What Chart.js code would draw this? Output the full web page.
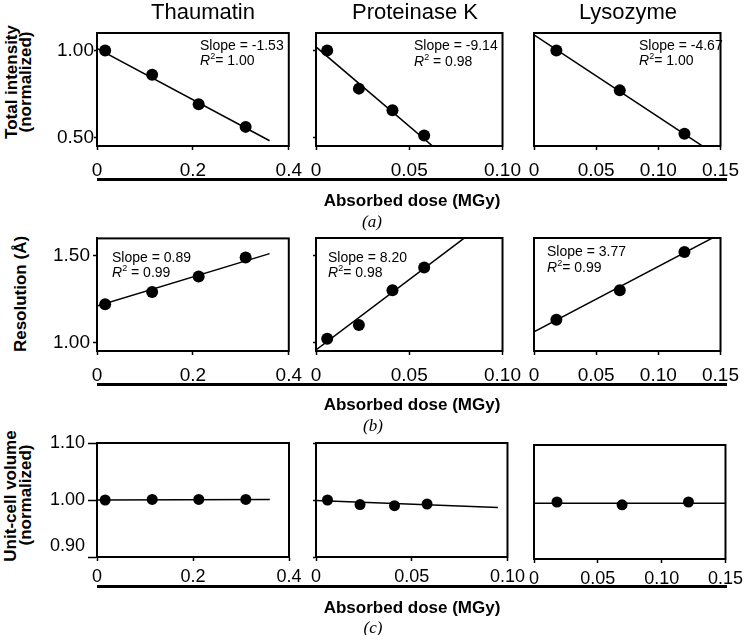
<!DOCTYPE html>
<html><head><meta charset="utf-8">
<script src="https://cdn.jsdelivr.net/npm/chart.js@4/dist/chart.umd.min.js"></script>
<style>
html,body{margin:0;padding:0;background:#fff;}
body{width:744px;height:635px;position:relative;overflow:hidden;font-family:"Liberation Sans",Arial,sans-serif;color:#000;}
canvas{position:absolute;}
.t{position:absolute;white-space:pre;line-height:1;transform:translate(-50%,-50%);}
.rot{font-weight:bold;font-size:17px;transform:translate(-50%,-50%) rotate(-90deg);}
.ann{position:absolute;white-space:pre;line-height:1;transform:translateY(-50%);font-size:14px;}
.ann sup{font-size:9px;vertical-align:baseline;position:relative;top:-6px;}
.rule{position:absolute;height:3px;background:#000;}
.xt{font-weight:bold;font-size:17px;}
.pl{font-family:"Liberation Serif","Times New Roman",serif;font-style:italic;font-size:17px;}
</style></head><body>
<script>
// ---- data ----
const proteins = ["Thaumatin", "Proteinase K", "Lysozyme"];
const rowTitles = [["Total intensity", "(normalized)"], ["Resolution (Å)"], ["Unit-cell volume", "(normalized)"]];
const xTitle = "Absorbed dose (MGy)";
const panelLetters = ["(a)", "(b)", "(c)"];

const doseThaumatin = [0.017, 0.115, 0.212, 0.310];
const doseProteinaseK = [0.006, 0.023, 0.041, 0.058];
const doseLysozyme = [0.018, 0.069, 0.121];

const intensityThaumatin = [1.00, 0.86, 0.69, 0.56];
const intensityProteinaseK = [1.00, 0.78, 0.655, 0.51];
const intensityLysozyme = [1.00, 0.77, 0.52];

const resolutionThaumatin = [1.22, 1.29, 1.38, 1.49];
const resolutionProteinaseK = [1.02, 1.10, 1.30, 1.43];
const resolutionLysozyme = [1.13, 1.30, 1.52];

const volumeThaumatin = [1.000, 1.001, 1.001, 1.001];
const volumeProteinaseK = [1.000, 0.992, 0.990, 0.993];
const volumeLysozyme = [1.000, 0.995, 1.000];

// fitted lines: [start, end] dose and value, per protein
const fitIntensityDose = [[0, 0.36], [0, 0.063], [0, 0.135]];
const fitIntensityValue = [[1.012, 0.480], [1.02, 0.445], [1.089, 0.452]];
const fitResolutionDose = [[0, 0.36], [0, 0.0793], [0, 0.143]];
const fitResolutionValue = [[1.21, 1.512], [0.956, 1.598], [1.06, 1.598]];
const fitVolumeDose = [[0, 0.36], [0, 0.095], [0, 0.15]];
const fitVolumeValue = [[1.000, 1.001], [0.999, 0.987], [0.998, 0.998]];

const slopeLabels = [["-1.53", "-9.14", "-4.67"], ["0.89", "8.20", "3.77"]];
const r2Labels = [["= 1.00", " = 0.98", "= 1.00"], [" = 0.99", "= 0.98", "= 0.99"]];

const xMax = [0.4, 0.10, 0.15];
const xTickValues = [[0, 0.2, 0.4], [0, 0.05, 0.10], [0, 0.05, 0.10, 0.15]];
const xTickLabels = [["0", "0.2", "0.4"], ["0", "0.05", "0.10"], ["0", "0.05", "0.10", "0.15"]];
const yMin = [0.45, 0.95, 0.90];
const yMax = [1.10, 1.60, 1.10];
const yTickValues = [[0.5, 1.0], [1.0, 1.5], [0.9, 1.0, 1.1]];
const yTickLabels = [["0.50", "1.00"], ["1.00", "1.50"], ["0.90", "1.00", "1.10"]];

// ---- layout ----
const cols = [{L: 97, R: 289}, {L: 316, R: 508}, {L: 534, R: 726}];
const rows = [{T: 33, B: 146}, {T: 238, B: 351}, {T: 443, B: 557}];
const W_Y = 60, PAD_T = 14, PAD_R = 22, H_X = 40;
const FONT = '"Liberation Sans", Arial, sans-serif';

const doses = [doseThaumatin, doseProteinaseK, doseLysozyme];
const rowValues = [
  [intensityThaumatin, intensityProteinaseK, intensityLysozyme],
  [resolutionThaumatin, resolutionProteinaseK, resolutionLysozyme],
  [volumeThaumatin, volumeProteinaseK, volumeLysozyme]
];
const fitDose = [fitIntensityDose, fitResolutionDose, fitVolumeDose];
const fitValue = [fitIntensityValue, fitResolutionValue, fitVolumeValue];

const framePlugin = {
  id: 'frame',
  beforeDatasetsDraw(chart) {
    const a = chart.chartArea, ctx = chart.ctx;
    ctx.save();
    ctx.strokeStyle = '#000';
    ctx.lineWidth = 2;
    ctx.strokeRect(a.left, a.top, a.right - a.left, a.bottom - a.top);
    ctx.restore();
  }
};

function panel(r, c) {
  const dy = (r === 2 && c === 2) ? 2 : 0;
  const L = cols[c].L, R = cols[c].R, T = rows[r].T + dy, B = rows[r].B + dy;
  const cv = document.createElement('canvas');
  cv.width = W_Y + (R - L) + PAD_R;
  cv.height = PAD_T + (B - T) + H_X;
  cv.style.left = (L - W_Y) + 'px';
  cv.style.top = (T - PAD_T) + 'px';
  document.body.appendChild(cv);

  const fs = r === 2 ? 18 : 19;
  const pts = doses[c].map((d, i) => ({x: d, y: rowValues[r][c][i]}));
  const fit = fitDose[r][c].map((d, i) => ({x: d, y: fitValue[r][c][i]}));
  const yTickLen = c === 0 ? [3, 4, 9][r] : 3;

  new Chart(cv, {
    type: 'scatter',
    data: {
      datasets: [
        {data: pts, backgroundColor: '#000', borderColor: '#000', borderWidth: 0,
         pointRadius: r === 2 ? 5.5 : 6, pointHoverRadius: 6, clip: false, order: 1},
        {data: fit, showLine: true, borderColor: '#000', borderWidth: 1.5,
         pointRadius: 0, fill: false, clip: 0, order: 2}
      ]
    },
    options: {
      responsive: false, animation: false, events: [],
      layout: {padding: {left: 0, top: PAD_T, right: PAD_R, bottom: 0}},
      plugins: {legend: {display: false}, tooltip: {enabled: false}},
      scales: {
        x: {
          type: 'linear', min: 0, max: xMax[c], bounds: 'data',
          afterBuildTicks: s => { s.ticks = xTickValues[c].map(v => ({value: v})); },
          afterFit: s => { s.height = H_X; },
          ticks: {autoSkip: false, maxRotation: 0, padding: r === 2 ? 5 : 9, color: '#000',
                  font: {family: FONT, size: fs},
                  callback: (v, i) => xTickLabels[c][i]},
          grid: {drawOnChartArea: false, drawTicks: true, tickLength: 4, tickWidth: 1.5,
                 tickColor: '#000', color: '#000'},
          border: {display: true, color: '#000', width: 2}
        },
        y: {
          type: 'linear', min: yMin[r], max: yMax[r], bounds: 'data',
          afterBuildTicks: s => { s.ticks = yTickValues[r].map(v => ({value: v})); },
          afterFit: s => { s.width = W_Y; },
          ticks: {display: c === 0, autoSkip: false, padding: r === 0 ? 0 : 3, color: '#000',
                  font: {family: FONT, size: fs},
                  // bottom label of the volume row sits raised above its tick, as in the original
                  callback: (v, i) => (r === 2 && i === 0) ? [yTickLabels[r][i], ''] : yTickLabels[r][i]},
          grid: {display: c !== 2, drawOnChartArea: false, drawTicks: true, tickLength: yTickLen,
                 tickWidth: 1.5, tickColor: '#000', color: '#000'},
          border: {display: true, color: '#000', width: 2}
        }
      }
    },
    plugins: [framePlugin]
  });
}

for (let r = 0; r < 3; r++) for (let c = 0; c < 3; c++) panel(r, c);

// ---- text overlays ----
function addText(cls, txt, x, y, html) {
  const d = document.createElement('div');
  d.className = cls;
  if (html) d.innerHTML = txt; else d.textContent = txt;
  d.style.left = x + 'px';
  d.style.top = y + 'px';
  document.body.appendChild(d);
  return d;
}
const titleX = [203, 415, 628];
proteins.forEach((p, i) => { const d = addText('t', p, titleX[i], 11.5); d.style.fontSize = '22px'; });

// row titles (rotated)
addText('t rot', rowTitles[0][0], 11, 82);
addText('t rot', rowTitles[0][1], 24.5, 82);
addText('t rot', rowTitles[1][0], 19.5, 294);
addText('t rot', rowTitles[2][0], 9.5, 496);
addText('t rot', rowTitles[2][1], 24.5, 495);

// x titles, rules, panel letters
const xTitleY = [200, 404, 607];
const ruleY = [178, 383, 585];
const letterPos = [[372, 221], [373, 425], [373, 627]];
for (let r = 0; r < 3; r++) {
  addText('t xt', xTitle, 412, xTitleY[r]);
  const rl = document.createElement('div');
  rl.className = 'rule';
  rl.style.left = '97px'; rl.style.width = '630px'; rl.style.top = ruleY[r] + 'px';
  document.body.appendChild(rl);
  addText('t pl', panelLetters[r], letterPos[r][0], letterPos[r][1]);
}

// slope / R^2 annotations
const annPos = [
  [{x: 200, y1: 45, y2: 60}, {x: 414, y1: 45, y2: 61}, {x: 639, y1: 45, y2: 60}],
  [{x: 112, y1: 257, y2: 272}, {x: 328, y1: 257, y2: 272}, {x: 547, y1: 251, y2: 267}]
];
for (let r = 0; r < 2; r++) for (let c = 0; c < 3; c++) {
  const p = annPos[r][c];
  addText('ann', 'Slope = ' + slopeLabels[r][c], p.x, p.y1);
  addText('ann', '<i>R</i><sup>2</sup>' + r2Labels[r][c], p.x, p.y2, true);
}
</script>
</body></html>
